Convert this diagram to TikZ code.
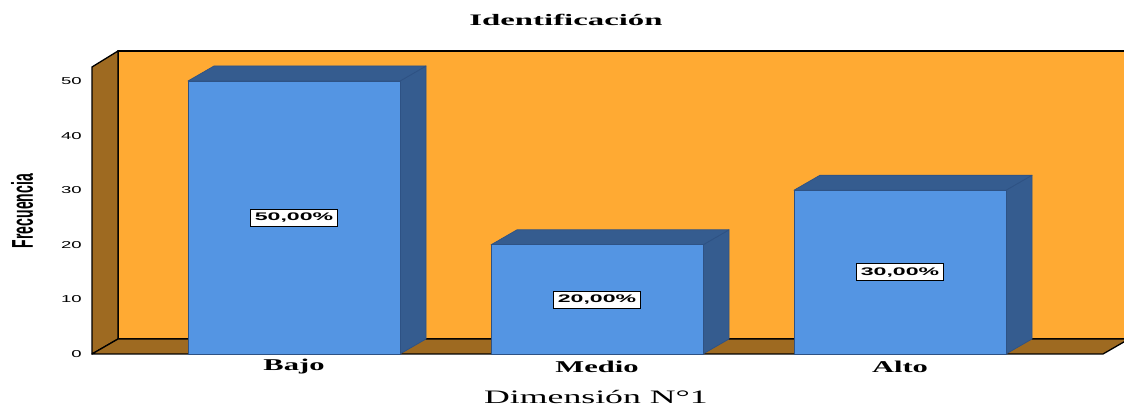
\documentclass[tikz,border=0pt]{standalone}
\usepackage{fontspec}
\setmainfont{Liberation Serif}
\setsansfont{Liberation Sans}
\usepackage{xcolor}
\definecolor{wallback}{HTML}{FFAA33}
\definecolor{wallside}{HTML}{9E6A21}
\definecolor{barfront}{HTML}{5495E3}
\definecolor{barside}{HTML}{355C8F}
\definecolor{baredge}{HTML}{2E5284}

\begin{document}
\begin{tikzpicture}[x=1pt,y=1pt,
    wall/.style={draw=black, line width=1.3pt, line join=round},
    front face/.style={fill=barfront, draw=baredge, line width=0.7pt, line join=round},
    dark face/.style={fill=barside, draw=baredge, line width=0.7pt, line join=round},
    pct box/.style={draw=black, fill=white, line width=0.7pt, xscale=2.1, inner xsep=2.2pt, inner ysep=3pt, text height=8.5pt, text depth=2.5pt, font=\sffamily\bfseries\fontsize{11}{11}\selectfont},
    tick label/.style={anchor=east, xscale=1.85, inner sep=0pt, font=\sffamily\fontsize{10}{10}\selectfont},
    cat label/.style={xscale=1.85, inner sep=0pt, font=\bfseries\fontsize{16.5}{16.5}\selectfont}]

    \clip (0,0) rectangle (1124,406);

    % walls and floor
    \filldraw[wall, fill=wallback] (118,67) -- (118,355) -- (1129,355) -- (1129,67) -- cycle;
    \filldraw[wall, fill=wallside] (92,52) -- (92,339) -- (118,355) -- (118,67) -- cycle;
    \filldraw[wall, fill=wallside] (92,52) -- (118,67) -- (1129,67) -- (1103,52) -- cycle;

    % Bajo
    \filldraw[dark face] (400,52) -- (426,67) -- (426,340) -- (400,325) -- cycle;
    \filldraw[dark face] (188,325) -- (214,340) -- (426,340) -- (400,325) -- cycle;
    \filldraw[front face] (188,52) rectangle (400,325);
    % Medio
    \filldraw[dark face] (703,52) -- (729,67) -- (729,176.2) -- (703,161.2) -- cycle;
    \filldraw[dark face] (491,161.2) -- (517,176.2) -- (729,176.2) -- (703,161.2) -- cycle;
    \filldraw[front face] (491,52) rectangle (703,161.2);
    % Alto
    \filldraw[dark face] (1006,52) -- (1032,67) -- (1032,230.8) -- (1006,215.8) -- cycle;
    \filldraw[dark face] (794,215.8) -- (820,230.8) -- (1032,230.8) -- (1006,215.8) -- cycle;
    \filldraw[front face] (794,52) rectangle (1006,215.8);

    \node[pct box] (p1) at (294,188.5) {50,00\%};
    \node[pct box] (p2) at (597,106.6) {20,00\%};
    \node[pct box] (p3) at (900,133.9) {30,00\%};

    % axis
    \node[tick label] (t0)  at (82,52)    {0};
    \node[tick label] (t10) at (82,106.6) {10};
    \node[tick label] (t20) at (82,161.2) {20};
    \node[tick label] (t30) at (82,215.8) {30};
    \node[tick label] (t40) at (82,270.4) {40};
    \node[tick label] (t50) at (82,325)   {50};

    \node[inner sep=0pt, font=\sffamily\fontsize{14}{14}\selectfont] (yaxis) at (22,195) {\scalebox{2.15}[1.0]{\rotatebox{90}{\textbf{Frecuencia}}}};

    \node[cat label] (bajo)  at (294,39) {Bajo};
    \node[cat label] (medio) at (597,39) {Medio};
    \node[cat label] (alto)  at (900,39) {Alto};

    \node[xscale=1.88, inner sep=0pt, font=\fontsize{19}{19}\selectfont] (xaxis) at (596,9) {Dimensión N°1};
    \node[xscale=2.05, inner sep=0pt, font=\bfseries\fontsize{16}{16}\selectfont] (title) at (566,386) {Identificación};
\end{tikzpicture}
\end{document}
